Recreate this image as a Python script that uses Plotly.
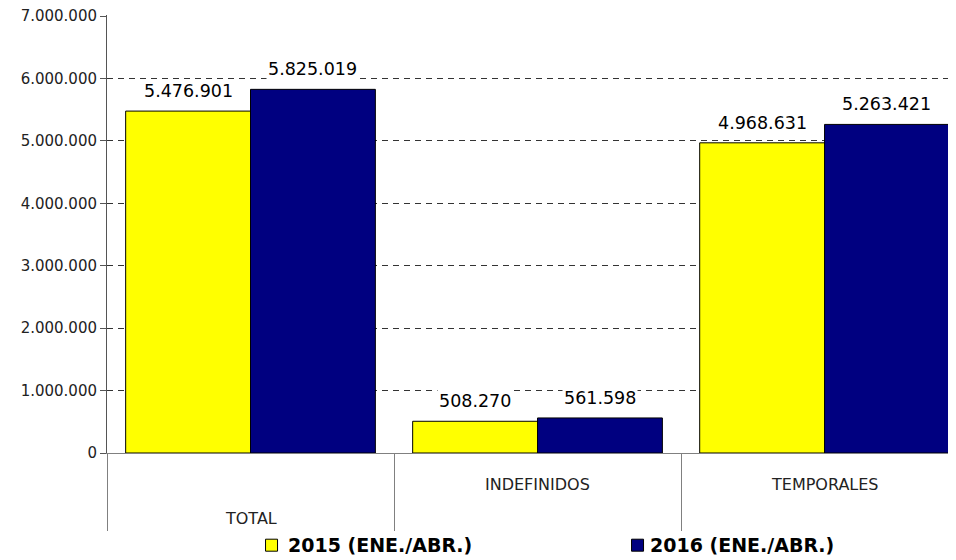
import plotly.graph_objects as go

categorias = ['TOTAL', 'INDEFINIDOS', 'TEMPORALES']
valores_2015 = [5476901, 508270, 4968631]
valores_2016 = [5825019, 561598, 5263421]
serie_2015 = '2015 (ENE./ABR.)'
serie_2016 = '2016 (ENE./ABR.)'

fuente = 'DejaVu Sans'
hueco = 0.13  # bargap
color_2015 = '#FFFF00'
color_2016 = '#000080'

fig = go.Figure()
fig.add_trace(go.Bar(x=categorias, y=valores_2015, name=serie_2015,
                     marker=dict(color=color_2015, line=dict(color='black', width=1))))
fig.add_trace(go.Bar(x=categorias, y=valores_2016, name=serie_2016,
                     marker=dict(color=color_2016, line=dict(color='black', width=1))))

# etiquetas de datos con fondo blanco (tapan la cuadricula, como en el original)
desplaz = (1 - hueco) / 4
for serie, signo in ((valores_2015, -1), (valores_2016, 1)):
    for i, v in enumerate(serie):
        fig.add_annotation(x=i + signo * desplaz, y=v, xref='x', yref='y',
                           text=f'{v:,}'.replace(',', '.'), showarrow=False,
                           yanchor='bottom', yshift=8, bgcolor='white', borderpad=1,
                           font=dict(family=fuente, size=17.5, color='black'))

# etiquetas de categoria escalonadas como en el original
alturas = [-0.149, -0.071, -0.071]
for cat, h in zip(categorias, alturas):
    fig.add_annotation(x=cat, y=h, xref='x', yref='paper', text=cat, showarrow=False,
                       yanchor='middle', font=dict(family=fuente, size=16, color='#222'))

# leyenda dibujada a mano (la leyenda de plotly empuja los margenes)
ley_y = -0.2105
for nombre, color, xc, xt in ((serie_2015, color_2015, 0.1938, 0.2108),
                              (serie_2016, color_2016, 0.6249, 0.6372)):
    fig.add_shape(type='rect', xref='paper', yref='paper', xsizemode='pixel', ysizemode='pixel',
                  xanchor=xc, yanchor=ley_y, x0=-6, x1=6, y0=-6, y1=6,
                  fillcolor=color, line=dict(color='black', width=1))
    fig.add_annotation(x=xt, y=ley_y, xref='paper', yref='paper', text=f'<b>{nombre}</b>',
                       showarrow=False, xanchor='left', yanchor='middle',
                       font=dict(family=fuente, size=19, color='black'))

# la pagina tiene 8px de margen en el body; el tope del eje un pixel por encima de 7M
# para que plotly dibuje la ultima linea de cuadricula
fig.update_layout(
    width=956, height=560,
    margin=dict(l=99, r=8, t=7, b=115),
    paper_bgcolor='white', plot_bgcolor='white',
    separators=',.',
    barmode='group', bargap=hueco, bargroupgap=0,
    font=dict(family=fuente, color='#222'),
    showlegend=False,
    xaxis=dict(range=[-0.5, 2.458], showline=True, linecolor='#808080', linewidth=1,
               ticks='outside', tickson='boundaries', ticklen=77, tickcolor='#808080',
               showticklabels=False, showgrid=False, zeroline=False, automargin=False),
    yaxis=dict(range=[0, 7000000 * 438 / 437], dtick=1000000, tickformat=',d',
               showline=True, linecolor='#555', linewidth=1,
               ticks='outside', ticklen=6, tickcolor='#555',
               showgrid=True, gridcolor='#333', gridwidth=1, griddash='6px,5px',
               zeroline=False, automargin=False, ticklabeloverflow='allow',
               tickfont=dict(family=fuente, size=15, color='#222')),
)

fig.write_html('out.html')
